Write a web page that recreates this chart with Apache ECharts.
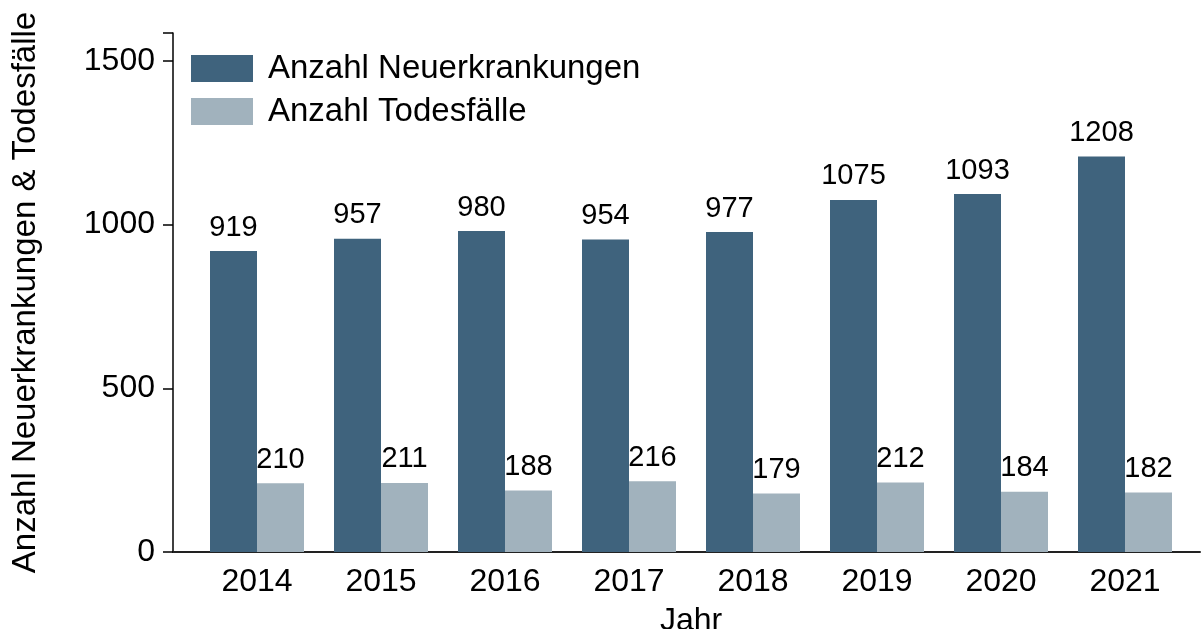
<!DOCTYPE html>
<html><head><meta charset="utf-8">
<script src="https://cdn.jsdelivr.net/npm/echarts@6/dist/echarts.min.js"></script>
<style>html,body{margin:0;padding:0;background:#fff}#c{width:1202px;height:629px}</style>
</head><body><div id="c"></div>
<script>
const years = ['2014','2015','2016','2017','2018','2019','2020','2021'];
const neuerkrankungen = [919, 957, 980, 954, 977, 1075, 1093, 1208];
const todesfaelle = [210, 211, 188, 216, 179, 212, 184, 182];
const yTicks = [0, 500, 1000, 1500];
const yMax = 1585;

const F = 'Liberation Sans, Arial, sans-serif';
const chart = echarts.init(document.getElementById('c'));
chart.setOption({
  animation: false,
  textStyle: {fontFamily: F},
  legend: {
    orient: 'vertical', left: 191, top: 52, padding: 0,
    itemWidth: 62, itemHeight: 27, itemGap: 10,
    icon: 'rect',
    textStyle: {fontSize: 33, color: '#000', fontFamily: F, padding: [0,0,0,10]},
    data: ['Anzahl Neuerkrankungen', 'Anzahl Todesfälle']
  },
  grid: [
    {left: 195, right: 15, top: 33, bottom: 77, outerBoundsMode: 'none', containLabel: false},
    {left: 173, right: 2, top: 33, bottom: 77, outerBoundsMode: 'none', containLabel: false}
  ],
  xAxis: [
    {type: 'category', gridIndex: 0, data: years,
     axisLine: {show: false}, axisTick: {show: false},
     axisLabel: {fontSize: 32, color: '#000', margin: 14, fontFamily: F},
     name: 'Jahr', nameLocation: 'middle', nameGap: 53,
     nameTextStyle: {fontSize: 32, color: '#000', fontFamily: F}},
    {type: 'value', gridIndex: 1, min: 0, max: 1,
     axisLine: {show: true, lineStyle: {color: '#222', width: 2}},
     axisTick: {show: false}, axisLabel: {show: false}, splitLine: {show: false}}
  ],
  yAxis: [
    {type: 'value', gridIndex: 0, min: 0, max: yMax, show: false, splitLine: {show: false}},
    {type: 'value', gridIndex: 1, min: 0, max: yMax, interval: 500,
     axisLine: {show: true, lineStyle: {color: '#000', width: 1.5}},
     axisTick: {show: true, length: 10, lineStyle: {color: '#000', width: 1.5}},
     axisLabel: {fontSize: 32, color: '#000', margin: 18, fontFamily: F,
       formatter: v => yTicks.indexOf(v) >= 0 ? String(v) : ''},
     splitLine: {show: false},
     name: 'Anzahl Neuerkrankungen & Todesfälle', nameLocation: 'middle', nameGap: 131,
     nameTextStyle: {fontSize: 33, color: '#000', fontFamily: F}}
  ],
  series: [
    {name: 'Anzahl Neuerkrankungen', type: 'bar', xAxisIndex: 0, yAxisIndex: 0,
     data: neuerkrankungen, barWidth: 47, barGap: '0%',
     itemStyle: {color: '#3f637d'},
     label: {show: true, position: 'top', distance: 9, fontSize: 29, color: '#000', fontFamily: F}},
    {name: 'Anzahl Todesfälle', type: 'bar', xAxisIndex: 0, yAxisIndex: 0,
     data: todesfaelle, barWidth: 47, barGap: '0%',
     itemStyle: {color: '#a1b2bd'},
     label: {show: true, position: 'top', distance: 9, fontSize: 29, color: '#000', fontFamily: F}}
  ]
});
</script></body></html>
